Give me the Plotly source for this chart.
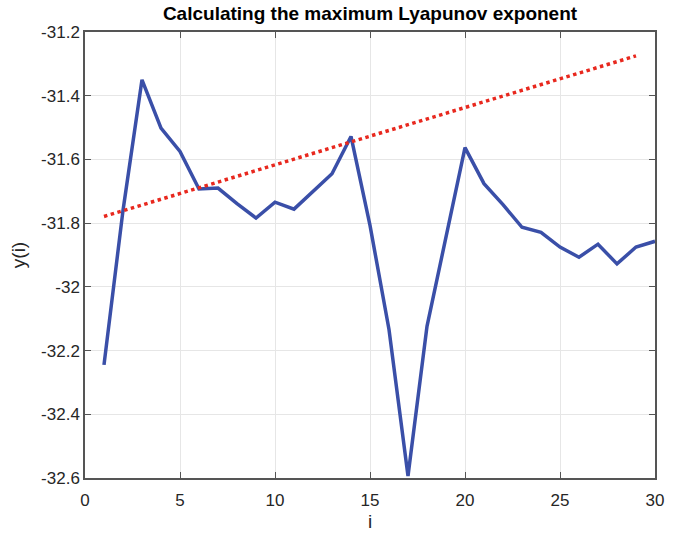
import plotly.graph_objects as go

i_vals = list(range(1, 31))
y_vals = [-32.245, -31.76, -31.35, -31.502, -31.575, -31.693, -31.69, -31.739, -31.784, -31.734,
          -31.756, -31.70, -31.645, -31.528, -31.807, -32.134, -32.594, -32.124, -31.842, -31.563,
          -31.676, -31.742, -31.813, -31.829, -31.875, -31.907, -31.866, -31.928, -31.875, -31.857]
fit_x = [1, 29]
fit_y = [-31.779, -31.275]

x_ticks = [0, 5, 10, 15, 20, 25, 30]
y_ticks = [-32.6, -32.4, -32.2, -32.0, -31.8, -31.6, -31.4, -31.2]
y_tick_text = ["-32.6", "-32.4", "-32.2", "-32", "-31.8", "-31.6", "-31.4", "-31.2"]

FONT = "Liberation Sans, Arial"

fig = go.Figure()
fig.add_trace(go.Scatter(x=i_vals, y=y_vals, mode="lines",
                         line=dict(color="#3a4fa8", width=3.5), showlegend=False))
fig.add_trace(go.Scatter(x=fit_x, y=fit_y, mode="lines",
                         line=dict(color="#e8281e", width=3.5, dash="dot"), showlegend=False))

axis_common = dict(showgrid=True, gridcolor="#e6e6e6", gridwidth=1,
                   showline=True, linecolor="#555555", linewidth=1.5, mirror="ticks",
                   ticks="inside", ticklen=6, tickcolor="#555555",
                   tickfont=dict(family=FONT, size=17, color="#262626"),
                   zeroline=False, automargin=False)

fig.update_layout(
    width=678, height=533,
    margin=dict(l=85, r=23, t=32, b=55),
    paper_bgcolor="white", plot_bgcolor="white",
    title=dict(text="<b>Calculating the maximum Lyapunov exponent</b>",
               x=0.5, xanchor="center", y=0.988, yanchor="top",
               xref="paper",
               font=dict(family=FONT, size=19, color="black")),
    xaxis=dict(range=[0, 30], tickvals=x_ticks, ticklabelstandoff=6,
               title=dict(text="i", standoff=6,
               font=dict(family=FONT, size=19, color="#262626")), **axis_common),
    yaxis=dict(range=[-32.6, -31.2], tickvals=y_ticks, ticktext=y_tick_text,
               title=dict(text="y(i)", standoff=10,
               font=dict(family=FONT, size=19, color="#262626")), **axis_common),
)

fig.write_html("out.html")
